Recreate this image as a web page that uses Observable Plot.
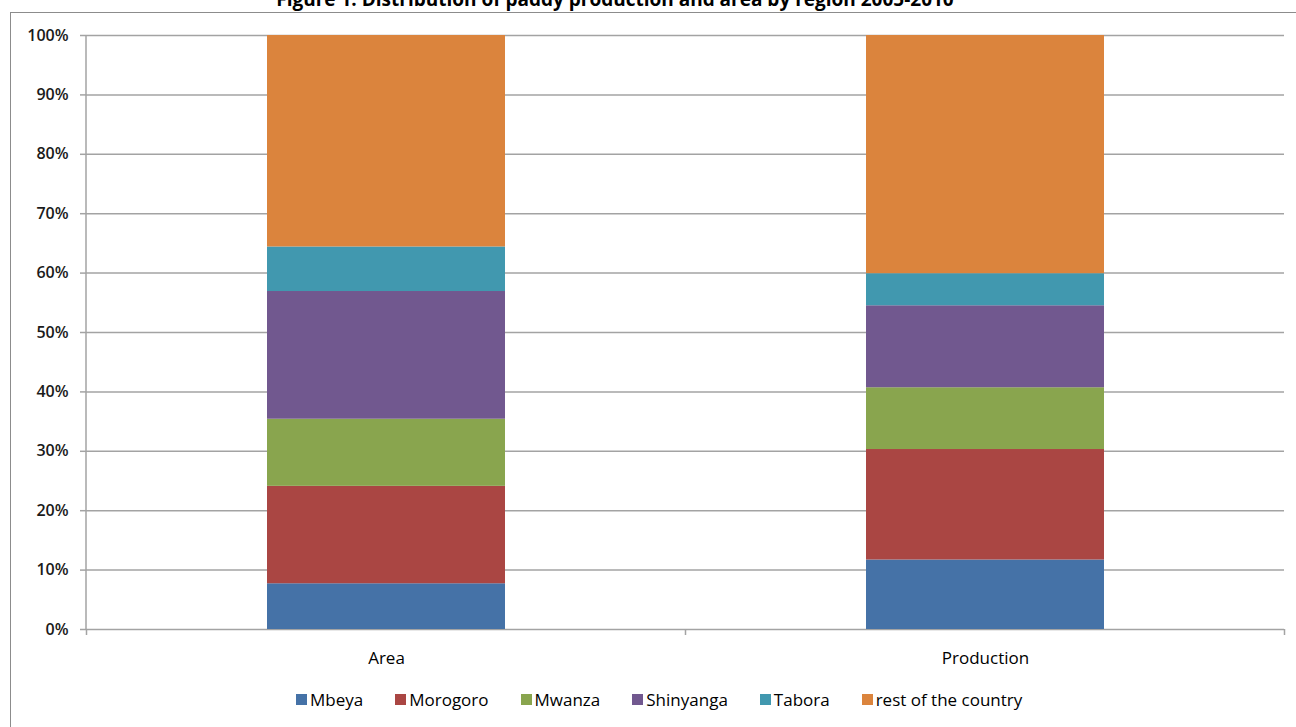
<!DOCTYPE html>
<html>
<head>
<meta charset="utf-8">
<script src="https://cdn.jsdelivr.net/npm/d3@7"></script>
<script src="https://cdn.jsdelivr.net/npm/@observablehq/plot@0.6"></script>
<style>
  html, body { margin: 0; padding: 0; background: #fff; overflow: hidden; }
  body { width: 1296px; height: 727px; position: relative; font-family: "Open Sans", sans-serif; }
  #border { position: absolute; left: 10px; top: 12px; width: 1300px; height: 730px; border-left: 1px solid #8c8c8c; border-top: 1px solid #8c8c8c; box-sizing: border-box; }
  #title { position: absolute; left: 0; width: 1230px; top: -14px; text-align: center; font-weight: bold; font-size: 19px; color: #000; }
  #chart { position: absolute; left: 0; top: 0; }
  #legend { position: absolute; top: 688px; left: 296px; display: flex; gap: 32px; font-size: 17px; color: #000; white-space: nowrap; }
  #legend span.item { display: flex; align-items: center; }
  #legend span.sw { width: 11px; height: 11px; margin-right: 3px; display: inline-block; }
</style>
</head>
<body>
<div id="border"></div>
<div id="title">Figure 1: Distribution of paddy production and area by region 2005-2010</div>
<div id="chart"></div>
<div id="legend"></div>
<script>
const categories = ["Area", "Production"];
const regions = ["Mbeya", "Morogoro", "Mwanza", "Shinyanga", "Tabora", "rest of the country"];
const colors = ["#4572A7", "#AA4643", "#89A54E", "#71588F", "#4198AF", "#DB843D"];
const areaShares = [7.7, 16.4, 11.3, 21.5, 7.5, 35.6];
const productionShares = [11.7, 18.6, 10.4, 13.8, 5.4, 40.1];
const yTicks = [0, 10, 20, 30, 40, 50, 60, 70, 80, 90, 100];

const series = {Area: areaShares, Production: productionShares};
const data = [];
for (const c of categories) regions.forEach((r, i) => data.push({category: c, region: r, value: series[c][i]}));

const grid = "#a3a3a3";

const boundaryTicks = (index, scales, values, dims) => {
  const x = scales.x, y = scales.y;
  const half = (x.step() - x.bandwidth()) / 2;
  const xs = categories.map(c => x(c) - half);
  xs.push(x(categories[categories.length - 1]) + x.bandwidth() + half);
  const g = d3.create("svg:g");
  const y0 = y(0);
  for (const xx of xs) {
    g.append("line").attr("x1", xx).attr("x2", xx).attr("y1", y0).attr("y2", y0 + 6)
      .attr("stroke", grid).attr("stroke-width", 1.5);
  }
  g.append("line").attr("x1", dims.marginLeft).attr("x2", dims.marginLeft)
    .attr("y1", y(100)).attr("y2", y0).attr("stroke", grid).attr("stroke-width", 1.5);
  return g.node();
};

const chart = Plot.plot({
  width: 1296,
  height: 727,
  marginTop: 35,
  marginBottom: 98,
  marginLeft: 86,
  marginRight: 12,
  style: {fontFamily: "Open Sans, sans-serif", background: "transparent"},
  x: {domain: categories, paddingInner: 0.603, paddingOuter: 0.3015, label: null},
  y: {domain: [0, 100], label: null},
  color: {domain: regions, range: colors},
  marks: [
    Plot.ruleY(yTicks, {stroke: grid, strokeWidth: 1.5, strokeOpacity: 1}),
    Plot.barY(data, {x: "category", y: "value", fill: "region", order: regions}),
    Plot.axisY({ticks: yTicks, tickFormat: d => d + "%", tickSize: 6, tickPadding: 12, stroke: grid, strokeWidth: 1.5, fontSize: 16, fontWeight: 600, fill: "#1a1a1a", label: null}),
    Plot.axisX({tickSize: 0, tickPadding: 22, fontSize: 17, fill: "#000", label: null}),
    boundaryTicks
  ]
});
document.getElementById("chart").appendChild(chart);

const legend = document.getElementById("legend");
regions.forEach((r, i) => {
  const item = document.createElement("span");
  item.className = "item";
  const sw = document.createElement("span");
  sw.className = "sw";
  sw.style.background = colors[i];
  item.appendChild(sw);
  item.appendChild(document.createTextNode(r));
  legend.appendChild(item);
});
</script>
</body>
</html>
